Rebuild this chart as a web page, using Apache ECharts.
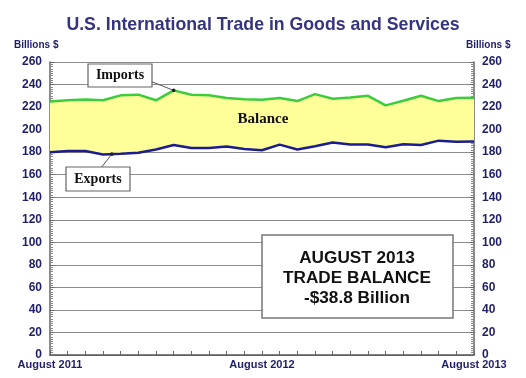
<!DOCTYPE html>
<html>
<head>
<meta charset="utf-8">
<script src="https://cdn.jsdelivr.net/npm/echarts@6/dist/echarts.min.js"></script>
<style>
  html, body { margin: 0; padding: 0; background: #fff; }
  #chart { width: 526px; height: 378px; }
</style>
</head>
<body>
<div id="chart"></div>
<script>
const monthNames = ['August', 'September', 'October', 'November', 'December', 'January', 'February',
  'March', 'April', 'May', 'June', 'July']
const months = []
for (let i = 0; i < 25; i++) {
  months.push(monthNames[i % 12] + ' ' + (2011 + Math.floor((i + 7) / 12)))
}
const shownLabels = ['August 2011', 'August 2012', 'August 2013']

// billions of dollars
const imports = [225, 226, 226.8, 226, 230.4, 231, 226, 234.8, 231, 230.4, 228, 227, 226.5,
  228, 225.3, 231.5, 227.4, 228.6, 230, 221.5, 225.6, 230, 225.3, 228, 228.2]
const exports = [180, 181, 181, 178, 178.5, 179.5, 182.3, 186.4, 183.7, 183.7, 185, 182.8, 181.7,
  186.7, 182.3, 185.2, 188.5, 186.7, 186.7, 184.4, 187, 186.4, 190.2, 189.3, 189.4]
const balance = imports.map((v, i) => +(v - exports[i]).toFixed(1))

const navy = '#1e1e6a'
const axisLabel = { color: navy, fontFamily: 'Arial', fontWeight: 'bold', fontSize: 12 }

const yAxisBase = {
  type: 'value',
  min: 0,
  max: 260,
  interval: 20,
  axisLine: { show: true, lineStyle: { color: '#666', width: 1.5 } },
  axisTick: { show: true, inside: true, length: 4, lineStyle: { color: '#666' } },
  minorTick: { show: true, splitNumber: 10, length: 3, lineStyle: { color: '#888' } }
}

const chart = echarts.init(document.getElementById('chart'))

chart.setOption({
  animation: false,
  title: {
    text: 'U.S. International Trade in Goods and Services',
    left: 'center',
    top: 11,
    textStyle: { color: '#34347f', fontFamily: 'Arial', fontWeight: 'bold', fontSize: 17.7 }
  },
  grid: { left: 50, right: 52, top: 62, bottom: 23 },
  xAxis: {
    type: 'category',
    data: months,
    boundaryGap: false,
    axisLine: { lineStyle: { color: '#555', width: 1.5 } },
    axisTick: { inside: true, length: 4, interval: 0, lineStyle: { color: '#666' } },
    axisLabel: {
      ...axisLabel,
      fontSize: 11,
      interval: 0,
      margin: 4,
      formatter: v => (shownLabels.includes(v) ? v : '')
    }
  },
  yAxis: [
    {
      ...yAxisBase,
      position: 'left',
      splitLine: { show: true, lineStyle: { color: '#8c8c8c', width: 1 } },
      axisLabel: { ...axisLabel, margin: 8 }
    },
    {
      ...yAxisBase,
      position: 'right',
      splitLine: { show: false },
      axisLabel: { ...axisLabel, margin: 8 }
    }
  ],
  series: [
    {
      name: 'base',
      type: 'line',
      stack: 'fill',
      data: exports,
      symbol: 'none',
      lineStyle: { opacity: 0 },
      z: 1
    },
    {
      name: 'Balance',
      type: 'line',
      stack: 'fill',
      data: balance,
      symbol: 'none',
      lineStyle: { opacity: 0 },
      areaStyle: { color: '#ffff99', opacity: 1 },
      z: 1
    },
    {
      name: 'Imports',
      type: 'line',
      data: imports,
      symbol: 'none',
      lineStyle: { color: '#3ccc3c', width: 2.5 },
      z: 3
    },
    {
      name: 'Exports',
      type: 'line',
      data: exports,
      symbol: 'none',
      lineStyle: { color: '#1c1c90', width: 2.5 },
      z: 3
    }
  ]
})

// annotations: leader lines point at the curves
const impPt = chart.convertToPixel({ xAxisIndex: 0, yAxisIndex: 0 }, [7, imports[7]])
const e3 = chart.convertToPixel({ xAxisIndex: 0, yAxisIndex: 0 }, [3, exports[3]])
const e4 = chart.convertToPixel({ xAxisIndex: 0, yAxisIndex: 0 }, [4, exports[4]])
const expPt = [(e3[0] + e4[0]) / 2, (e3[1] + e4[1]) / 2]

const serifLabel = { fontFamily: 'Liberation Serif', fontWeight: 'bold', fontSize: 14, fill: '#111' }
const boxStyle = { fill: '#fff', stroke: '#666', lineWidth: 1.2 }
const sansBig = { fontFamily: 'Arial', fontWeight: 'bold', fontSize: 17.2, fill: '#111', textAlign: 'center', textVerticalAlign: 'middle' }

chart.setOption({
  graphic: [
    { type: 'text', left: 14, top: 40, style: { text: 'Billions $', fontFamily: 'Arial', fontWeight: 'bold', fontSize: 10, fill: navy } },
    { type: 'text', left: 466, top: 40, style: { text: 'Billions $', fontFamily: 'Arial', fontWeight: 'bold', fontSize: 10, fill: navy } },
    { type: 'line', shape: { x1: 150, y1: 81, x2: impPt[0], y2: impPt[1] }, style: { stroke: '#555', lineWidth: 1 }, z: 10 },
    { type: 'circle', shape: { cx: impPt[0], cy: impPt[1], r: 1.8 }, style: { fill: '#222' }, z: 11 },
    { type: 'rect', shape: { x: 88, y: 64, width: 64, height: 23 }, style: boxStyle, z: 10 },
    { type: 'text', x: 120, y: 75.5, style: { ...serifLabel, text: 'Imports', textAlign: 'center', textVerticalAlign: 'middle' }, z: 11 },
    { type: 'line', shape: { x1: 101, y1: 168, x2: expPt[0], y2: expPt[1] }, style: { stroke: '#555', lineWidth: 1 }, z: 10 },
    { type: 'circle', shape: { cx: expPt[0], cy: expPt[1], r: 1.8 }, style: { fill: '#222' }, z: 11 },
    { type: 'rect', shape: { x: 66, y: 167, width: 64, height: 24 }, style: boxStyle, z: 10 },
    { type: 'text', x: 98, y: 179, style: { ...serifLabel, text: 'Exports', textAlign: 'center', textVerticalAlign: 'middle' }, z: 11 },
    { type: 'text', x: 263, y: 119, style: { ...serifLabel, fontSize: 15, text: 'Balance', textAlign: 'center', textVerticalAlign: 'middle' }, z: 11 },
    { type: 'rect', shape: { x: 262, y: 235, width: 191, height: 83 }, style: { fill: '#fff', stroke: '#777', lineWidth: 1.5 }, z: 10 },
    { type: 'text', x: 357, y: 258, style: { ...sansBig, text: 'AUGUST 2013' }, z: 11 },
    { type: 'text', x: 357, y: 278, style: { ...sansBig, text: 'TRADE BALANCE' }, z: 11 },
    { type: 'text', x: 357, y: 298, style: { ...sansBig, text: '-$38.8 Billion' }, z: 11 }
  ]
})
</script>
</body>
</html>
